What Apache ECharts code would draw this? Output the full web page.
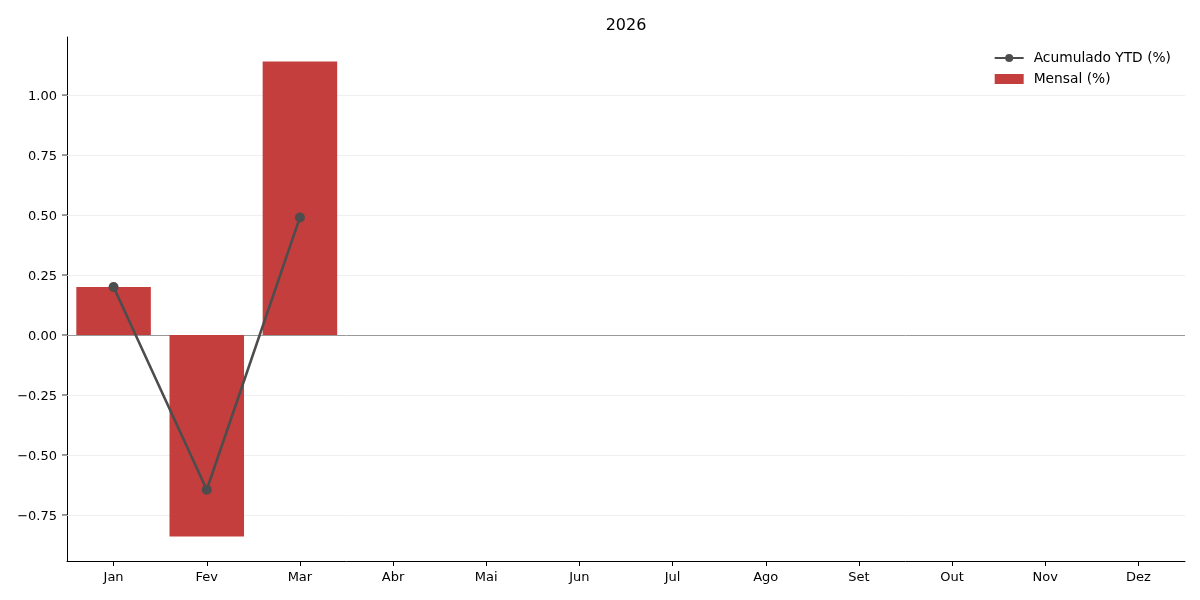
<!DOCTYPE html>
<html>
<head>
<meta charset="utf-8">
<script src="https://cdn.jsdelivr.net/npm/echarts@6/dist/echarts.min.js"></script>
<style>
  html, body { margin: 0; padding: 0; background: #fff; }
  #chart { width: 1200px; height: 600px; }
</style>
</head>
<body>
<div id="chart"></div>
<script>
// dados
const meses = ['Jan', 'Fev', 'Mar', 'Abr', 'Mai', 'Jun', 'Jul', 'Ago', 'Set', 'Out', 'Nov', 'Dez'];
const mensal = [0.20, -0.84, 1.14, null, null, null, null, null, null, null, null, null];
const acumulado = [0.20, -0.645, 0.49, null, null, null, null, null, null, null, null, null];
const yTicks = [-0.75, -0.5, -0.25, 0, 0.25, 0.5, 0.75, 1.0];

const fonte = 'DejaVu Sans';
const chart = echarts.init(document.getElementById('chart'));

const option = {
    animation: false,
    title: {
        text: '2026',
        left: 621,
        textAlign: 'center',
        top: 13,
        textStyle: { fontFamily: fonte, fontSize: 16, fontWeight: 'normal', color: '#000' }
    },
    legend: {
        orient: 'vertical',
        right: 24,
        top: 46,
        itemGap: 7,
        itemWidth: 29,
        itemHeight: 10,
        textStyle: { fontFamily: fonte, fontSize: 13.8, color: '#000', padding: [0, 0, 0, 5] },
        data: [
            { name: 'Acumulado YTD (%)' },
            { name: 'Mensal (%)', icon: 'rect' }
        ]
    },
    grid: { left: 67, right: 15, top: 37, bottom: 39 },
    xAxis: [
        {
            type: 'category',
            data: meses,
            axisLine: { onZero: false, lineStyle: { color: '#000' } },
            axisTick: { show: true, inside: false, alignWithLabel: true, length: 5, lineStyle: { color: '#000', width: 1 } },
            axisLabel: { fontFamily: fonte, fontSize: 13, color: '#000', margin: 10 }
        },
        {
            // eixo auxiliar só para as marcas do eixo y
            type: 'value',
            min: 0,
            max: 1,
            show: false
        }
    ],
    yAxis: {
        type: 'value',
        min: -0.942,
        max: 1.242,
        axisLine: { show: true, lineStyle: { color: '#000' } },
        axisTick: { show: false },
        axisLabel: {
            fontFamily: fonte, fontSize: 13, color: '#000', margin: 10,
            customValues: yTicks,
            formatter: v => '{t|' + (v < 0 ? '\u2212' : '') + Math.abs(v).toFixed(2) + '}',
            rich: {
                t: { fontFamily: fonte, fontSize: 13, color: '#000', padding: [4, 0, 0, 0] }
            }
        },
        splitLine: { show: false }
    },
    series: [
        {
            name: 'Mensal (%)',
            type: 'bar',
            data: mensal,
            barWidth: '80%',
            itemStyle: { color: '#c43e3e' },
            z: 2,
            markLine: {
                silent: true,
                symbol: 'none',
                label: { show: false },
                animation: false,
                z: 1,
                data: yTicks.filter(v => v !== 0).map(v => ({
                    yAxis: v,
                    lineStyle: { color: '#ebebeb', width: 0.8, type: 'solid' }
                }))
            }
        },
        {
            name: 'Acumulado YTD (%)',
            type: 'line',
            data: acumulado,
            symbol: 'circle',
            symbolSize: 10,
            itemStyle: { color: '#4d4d4d' },
            lineStyle: { color: '#4d4d4d', width: 2.6 },
            z: 3,
            markLine: {
                silent: true,
                symbol: 'none',
                label: { show: false },
                animation: false,
                z: 2,
                data: [{ yAxis: 0, lineStyle: { color: '#999', width: 1, type: 'solid' } }]
            }
        },
        {
            // marcas do eixo y
            name: 'ticks',
            type: 'scatter',
            xAxisIndex: 1,
            data: yTicks.map(v => [0, v]),
            symbol: 'rect',
            symbolSize: [5, 1],
            symbolOffset: [-2.5, 0],
            itemStyle: { color: '#000' },
            silent: true,
            clip: false,
            z: 10
        }
    ]
};

chart.setOption(option);
</script>
</body>
</html>
